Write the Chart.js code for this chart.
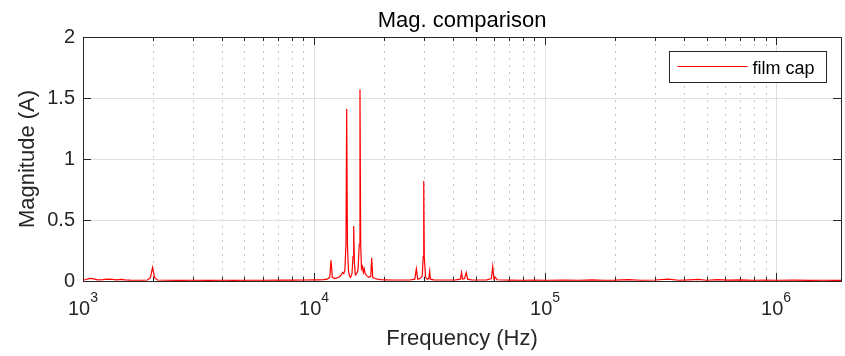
<!DOCTYPE html>
<html>
<head>
<meta charset="utf-8">
<script src="https://cdn.jsdelivr.net/npm/chart.js@4.4.1/dist/chart.umd.min.js"></script>
<style>
  html, body { margin: 0; padding: 0; background: #fff; }
</style>
</head>
<body>
<canvas id="chart" width="845" height="356"></canvas>
<script>
// spectrum (Hz, A)
const freqHz = [
  1000, 1030, 1060, 1090, 1120, 1160, 1220, 1280, 1340, 1400, 1460, 1520, 1600, 1700, 1800,
  1900, 1960, 1985, 2000, 2015, 2040, 2100, 2300, 2600, 3000, 3500, 4000, 4500, 5000, 6000,
  7000, 8000, 9000, 10000, 10500, 11000, 11400, 11700, 11850, 12000, 12300, 12600, 12900,
  13100, 13300, 13450, 13600, 13750, 13850, 13950, 14100, 14250, 14400, 14600, 14750, 14850,
  14950, 15100, 15300, 15500, 15700, 15810, 15920, 16050, 16200, 16350, 16500, 16650, 16800,
  17000, 17300, 17600, 17770, 17950, 18300, 18800, 19500, 20500, 22000, 24000, 26000, 27300,
  27730, 28100, 28800, 29400, 29700, 29850, 30000, 30400, 30900, 31400, 31660, 31900, 33000,
  35000, 38000, 41000, 43000, 43500, 43900, 44800, 45600, 46200, 48000, 52000, 56000, 58600,
  59370, 60100, 61000, 62000, 70000, 80000, 90000, 100000, 120000, 140000, 160000, 180000,
  200000, 230000, 260000, 300000, 340000, 380000, 420000, 460000, 500000, 560000, 620000,
  700000, 800000, 900000, 1000000, 1200000, 1400000, 1600000, 1800000, 1910000
];
const magFilmCap = [
  0.008, 0.012, 0.02, 0.022, 0.015, 0.01, 0.012, 0.016, 0.014, 0.01, 0.013, 0.009, 0.007, 0.006, 0.006,
  0.008, 0.03, 0.08, 0.11, 0.08, 0.03, 0.008, 0.006, 0.005, 0.006, 0.005, 0.006, 0.005, 0.006, 0.006,
  0.007, 0.007, 0.008, 0.009, 0.01, 0.012, 0.015, 0.03, 0.17, 0.03, 0.02, 0.025, 0.035,
  0.05, 0.07, 0.06, 0.09, 0.3, 1.41, 0.3, 0.08, 0.04, 0.03, 0.06, 0.2, 0.45,
  0.15, 0.05, 0.06, 0.09, 0.3, 1.57, 0.3, 0.1, 0.12, 0.07, 0.1, 0.06, 0.05,
  0.04, 0.03, 0.04, 0.19, 0.03, 0.02, 0.015, 0.012, 0.01, 0.008, 0.008, 0.008, 0.015,
  0.1, 0.015, 0.02, 0.04, 0.2, 0.82, 0.2, 0.03, 0.015, 0.02, 0.08, 0.015, 0.01,
  0.008, 0.008, 0.01, 0.015, 0.07, 0.015, 0.02, 0.07, 0.015, 0.01, 0.008, 0.01, 0.02,
  0.12, 0.015, 0.03, 0.01, 0.007, 0.006, 0.007, 0.006, 0.008, 0.006, 0.01, 0.006,
  0.007, 0.012, 0.006, 0.008, 0.015, 0.006, 0.01, 0.013, 0.006, 0.012, 0.007,
  0.01, 0.006, 0.008, 0.006, 0.007, 0.005, 0.006, 0.005, 0.005
];
const seriesName = 'film cap';
const chartTitle = 'Mag. comparison';
const xMin = 1e3;
const xMax = 1.91e6;
const xMajorTicks = [1e3, 1e4, 1e5, 1e6];
const xTickExponents = ['3', '4', '5', '6'];
const yTicks = [0, 0.5, 1, 1.5, 2];

const axisColor = '#262626';
const fontFamily = '"Liberation Sans", Arial, sans-serif';

// MATLAB-ish box: dotted minor grid, inward ticks, superscript decade labels
const matlabAxes = {
  id: 'matlabAxes',
  beforeDatasetsDraw(chart) {
    const { ctx, chartArea: a, scales: { x, y } } = chart;
    const line = (x1, y1, x2, y2) => { ctx.beginPath(); ctx.moveTo(x1, y1); ctx.lineTo(x2, y2); ctx.stroke(); };
    const minor = [];
    xMajorTicks.forEach(d => { for (let m = 2; m <= 9; m++) if (d * m <= xMax) minor.push(d * m); });
    const px = v => Math.round(x.getPixelForValue(v)) + 0.5;
    const py = v => Math.round(y.getPixelForValue(v)) + 0.5;

    ctx.save();
    ctx.lineWidth = 1;
    ctx.strokeStyle = '#c4c4c4';
    ctx.setLineDash([2, 5]);
    minor.forEach(v => line(px(v), a.top, px(v), a.bottom));
    ctx.setLineDash([]);
    ctx.strokeStyle = '#dfdfdf';
    xMajorTicks.slice(1).forEach(v => line(px(v), a.top, px(v), a.bottom));
    yTicks.slice(1, -1).forEach(v => line(a.left, py(v), a.right, py(v)));

    ctx.strokeStyle = axisColor;
    ctx.strokeRect(Math.round(a.left) + 0.5, Math.round(a.top) + 0.5,
      Math.round(a.right - a.left), Math.round(a.bottom - a.top));
    const T = 8, t = 4;
    xMajorTicks.forEach(v => { line(px(v), a.bottom, px(v), a.bottom - T); line(px(v), a.top, px(v), a.top + T); });
    minor.forEach(v => { line(px(v), a.bottom, px(v), a.bottom - t); line(px(v), a.top, px(v), a.top + t); });
    yTicks.forEach(v => { line(a.left, py(v), a.left + T, py(v)); line(a.right, py(v), a.right - T, py(v)); });

    ctx.fillStyle = axisColor;
    ctx.textBaseline = 'alphabetic';
    ctx.textAlign = 'left';
    xMajorTicks.forEach((v, i) => {
      ctx.font = '20px ' + fontFamily;
      const w1 = ctx.measureText('10').width;
      ctx.font = '14px ' + fontFamily;
      const w2 = ctx.measureText(xTickExponents[i]).width;
      const x0 = x.getPixelForValue(v) - (w1 + w2) / 2;
      ctx.font = '20px ' + fontFamily;
      ctx.fillText('10', x0, a.bottom + 34);
      ctx.font = '14px ' + fontFamily;
      ctx.fillText(xTickExponents[i], x0 + w1, a.bottom + 21);
    });

    // title centred over the axes box, as MATLAB does
    ctx.fillStyle = '#000';
    ctx.textAlign = 'center';
    ctx.font = '22px ' + fontFamily;
    ctx.fillText(chartTitle, (a.left + a.right) / 2, a.top - 10);
    ctx.restore();
  },
  afterDatasetsDraw(chart) {
    const { ctx, chartArea: a } = chart;
    const ds = chart.data.datasets[0];
    const bx = Math.round(a.right) - 172 + 0.5, by = Math.round(a.top) + 14 + 0.5;
    ctx.save();
    ctx.fillStyle = '#fff';
    ctx.fillRect(bx, by, 157, 31);
    ctx.strokeStyle = axisColor;
    ctx.lineWidth = 1;
    ctx.strokeRect(bx, by, 157, 31);
    ctx.strokeStyle = ds.borderColor;
    ctx.beginPath();
    ctx.moveTo(bx + 8, by + 15);
    ctx.lineTo(bx + 78, by + 15);
    ctx.stroke();
    ctx.fillStyle = '#000';
    ctx.font = '18px ' + fontFamily;
    ctx.textBaseline = 'alphabetic';
    ctx.fillText(ds.label, bx + 83, by + 22);
    ctx.restore();
  }
};

new Chart(document.getElementById('chart'), {
  type: 'line',
  data: {
    datasets: [{
      label: seriesName,
      data: freqHz.map((f, i) => ({ x: f, y: magFilmCap[i] })),
      borderColor: '#ff0000',
      borderWidth: 1.2,
      pointRadius: 0,
      tension: 0
    }]
  },
  options: {
    responsive: false,
    animation: false,
    devicePixelRatio: 1,
    layout: { padding: { left: 0, right: 4, top: 37, bottom: 0 } },
    plugins: {
      legend: { display: false },
      tooltip: { enabled: false },
      title: { display: false }
    },
    scales: {
      x: {
        type: 'logarithmic',
        min: xMin,
        max: xMax,
        grid: { display: false, drawTicks: false },
        border: { display: false },
        ticks: { display: false },
        title: {
          display: true,
          text: 'Frequency (Hz)',
          color: axisColor,
          font: { family: fontFamily, size: 22 },
          padding: { top: 0, bottom: 3.5 }
        },
        afterFit: s => { s.height = 75; }
      },
      y: {
        min: 0,
        max: 2,
        grid: { display: false, drawTicks: false },
        border: { display: false },
        afterBuildTicks: s => { s.ticks = yTicks.map(v => ({ value: v })); },
        ticks: {
          color: axisColor,
          padding: 8,
          font: { family: fontFamily, size: 20 },
          callback: v => String(v)
        },
        title: {
          display: true,
          text: 'Magnitude (A)',
          color: axisColor,
          font: { family: fontFamily, size: 22 },
          padding: { top: 14.4, bottom: 0 }
        },
        afterFit: s => { s.width = 83; }
      }
    }
  },
  plugins: [matlabAxes]
});
</script>
</body>
</html>
